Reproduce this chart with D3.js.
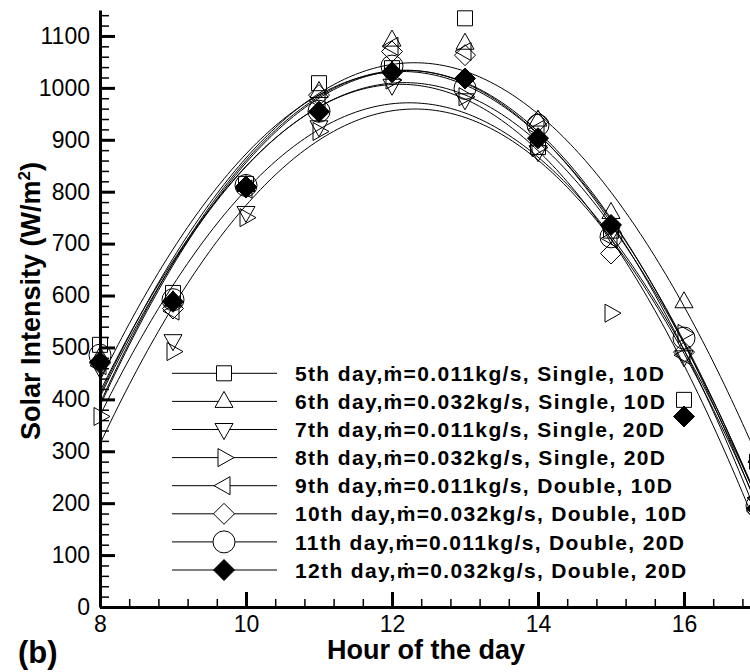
<!DOCTYPE html>
<html>
<head>
<meta charset="utf-8">
<script src="https://cdn.jsdelivr.net/npm/d3@7"></script>
<style>
  body { margin: 0; background: #fff; }
  svg { display: block; font-family: "Liberation Sans", Arial, Helvetica, sans-serif; }
</style>
</head>
<body>
<div id="chart"></div>
<script>
// measured values, one array per test day
var hours = [8, 9, 10, 11, 12, 13, 14, 15, 16, 17];
var day5 = [505, 605, 815, 1009, 1038, 1134, 886, 725, 399, 280];
var day6 = [482, 590, 812, 993, 1092, 1086, 938, 760, 588, 290];
var day7 = [460, 513, 760, 925, 1005, 977, 877, 720, 482, 200];
var day8 = [367, 492, 750, 916, 1015, 983, 885, 566, 527, 220];
var day9 = [465, 570, 805, 975, 1080, 1070, 920, 710, 485, 210];
var day10 = [470, 575, 808, 986, 1070, 1063, 935, 681, 491, 185];
var day11 = [485, 592, 812, 955, 1042, 999, 928, 713, 518, 195];
var day12 = [472, 588, 810, 954, 1030, 1018, 903, 736, 367, 190];

var seriesValues = [day5, day6, day7, day8, day9, day10, day11, day12];
var seriesNames = [
  "5th day,\u1E41=0.011kg/s, Single, 10D",
  "6th day,\u1E41=0.032kg/s, Single, 10D",
  "7th day,\u1E41=0.011kg/s, Single, 20D",
  "8th day,\u1E41=0.032kg/s, Single, 20D",
  "9th day,\u1E41=0.011kg/s, Double, 10D",
  "10th day,\u1E41=0.032kg/s, Double, 10D",
  "11th day,\u1E41=0.011kg/s, Double, 20D",
  "12th day,\u1E41=0.032kg/s, Double, 20D"
];
var seriesShapes = ["square", "triUp", "triDown", "triRight", "triLeft", "diamond", "circle", "diamondFilled"];

var yTicks = [0, 100, 200, 300, 400, 500, 600, 700, 800, 900, 1000, 1100];
var xTicks = [8, 10, 12, 14, 16];

var width = 750, height = 672;

var svg = d3.select("#chart")
  .append("svg")
  .attr("width", width)
  .attr("height", height);

var x = d3.scaleLinear().domain([8, 17]).range([100, 757]);
var y = d3.scaleLinear().domain([0, 1150]).range([607, 10]);

// marker outlines, centred on 0,0
function shapePath(type) {
  switch (type) {
    case "square": return "M-7.5,-7.5H7.5V7.5H-7.5Z";
    case "triUp": return "M0,-10L9,6L-9,6Z";
    case "triDown": return "M0,10L9,-6L-9,-6Z";
    case "triRight": return "M10,0L-6,-9L-6,9Z";
    case "triLeft": return "M-10,0L6,-9L6,9Z";
    case "diamond":
    case "diamondFilled": return "M0,-10.5L10.5,0L0,10.5L-10.5,0Z";
    case "circle": return "M11,0A11,11 0 1,1 -11,0A11,11 0 1,1 11,0Z";
  }
}

// least squares quadratic through each day's points
function quadFit(xs, ys) {
  var s = [0, 0, 0, 0, 0], t = [0, 0, 0];
  xs.forEach(function(xv, i) {
    var u = xv - 12;
    for (var k = 0; k < 5; k++) s[k] += Math.pow(u, k);
    for (var k = 0; k < 3; k++) t[k] += ys[i] * Math.pow(u, k);
  });
  var m = [[s[0], s[1], s[2], t[0]], [s[1], s[2], s[3], t[1]], [s[2], s[3], s[4], t[2]]];
  for (var c = 0; c < 3; c++) {
    for (var r = c + 1; r < 3; r++) {
      var f = m[r][c] / m[c][c];
      for (var k = c; k < 4; k++) m[r][k] -= f * m[c][k];
    }
  }
  var a = [0, 0, 0];
  for (var r = 2; r >= 0; r--) {
    var v = m[r][3];
    for (var k = r + 1; k < 3; k++) v -= m[r][k] * a[k];
    a[r] = v / m[r][r];
  }
  return function(h) { var u = h - 12; return a[0] + a[1] * u + a[2] * u * u; };
}

var line = d3.line()
  .x(function(d) { return x(d[0]); })
  .y(function(d) { return y(d[1]); });

var sampleHours = d3.range(8, 17.001, 0.05);

// fitted curves
svg.append("g")
  .selectAll("path")
  .data(seriesValues)
  .enter()
  .append("path")
  .attr("fill", "none")
  .attr("stroke", "#000")
  .attr("stroke-width", 1)
  .attr("d", function(vals) {
    var fit = quadFit(hours, vals);
    return line(sampleHours.map(function(h) { return [h, fit(h)]; }));
  });

// data markers
seriesValues.forEach(function(vals, si) {
  var shape = seriesShapes[si];
  svg.append("g")
    .selectAll("path")
    .data(vals)
    .enter()
    .append("path")
    .attr("transform", function(d, i) { return "translate(" + x(hours[i]) + "," + y(d) + ")"; })
    .attr("d", shapePath(shape))
    .attr("fill", shape == "diamondFilled" ? "#000" : "none")
    .attr("stroke", "#000")
    .attr("stroke-width", 1);
});

// axes, ticks pointing into the plot
var yMinor = svg.append("g")
  .attr("transform", "translate(100,0)")
  .call(d3.axisLeft(y).tickValues(d3.range(0, 1141, 20)).tickSizeInner(-9).tickSizeOuter(0).tickFormat(""));
var yAxis = svg.append("g")
  .attr("transform", "translate(100,0)")
  .call(d3.axisLeft(y).tickValues(yTicks).tickSizeInner(-15).tickSizeOuter(0).tickPadding(10).tickFormat(d3.format("d")));
var xMinor = svg.append("g")
  .attr("transform", "translate(0,607)")
  .call(d3.axisBottom(x).tickValues(d3.range(8, 17.01, 0.4)).tickSizeInner(-8).tickSizeOuter(0).tickFormat(""));
var xAxis = svg.append("g")
  .attr("transform", "translate(0,607)")
  .call(d3.axisBottom(x).tickValues(xTicks).tickSizeInner(-15).tickSizeOuter(0).tickPadding(9).tickFormat(d3.format("d")));

[yMinor, xMinor].forEach(function(g) {
  g.selectAll(".tick line").attr("stroke", "#000").attr("stroke-width", 1.5);
  g.select(".domain").remove();
});
[yAxis, xAxis].forEach(function(g) {
  g.selectAll(".tick line").attr("stroke", "#000").attr("stroke-width", 3);
  g.select(".domain").attr("stroke", "#000").attr("stroke-width", 3);
  g.selectAll(".tick text")
    .attr("fill", "#000")
    .style("font-size", "23px")
    .style("font-family", "'Liberation Sans', Arial, sans-serif");
});

// legend
var legend = svg.append("g");
seriesNames.forEach(function(name, i) {
  var ly = 373.3 + i * 28.1;
  legend.append("line")
    .attr("x1", 172).attr("x2", 277)
    .attr("y1", ly).attr("y2", ly)
    .attr("stroke", "#000").attr("stroke-width", 1);
  legend.append("path")
    .attr("transform", "translate(224," + ly + ")")
    .attr("d", shapePath(seriesShapes[i]))
    .attr("fill", seriesShapes[i] == "diamondFilled" ? "#000" : "#fff")
    .attr("stroke", "#000");
  legend.append("text")
    .attr("x", 295)
    .attr("y", ly + 7.6)
    .attr("font-size", "21px")
    .attr("font-weight", "bold")
    .attr("letter-spacing", "1.35px")
    .text(name);
});

// axis titles
svg.append("text")
  .attr("x", 426)
  .attr("y", 659)
  .attr("font-size", "27px")
  .attr("font-weight", "bold")
  .style("text-anchor", "middle")
  .text("Hour of the day");

svg.append("text")
  .attr("transform", "translate(40,301) rotate(-90)")
  .attr("font-size", "27px")
  .attr("font-weight", "bold")
  .style("text-anchor", "middle")
  .html("Solar Intensity (W/m<tspan dy='-10' font-size='17px'>2</tspan><tspan dy='10'>)</tspan>");

svg.append("text")
  .attr("x", 18)
  .attr("y", 663)
  .attr("font-size", "31px")
  .attr("font-weight", "bold")
  .text("(b)");
</script>
</body>
</html>
